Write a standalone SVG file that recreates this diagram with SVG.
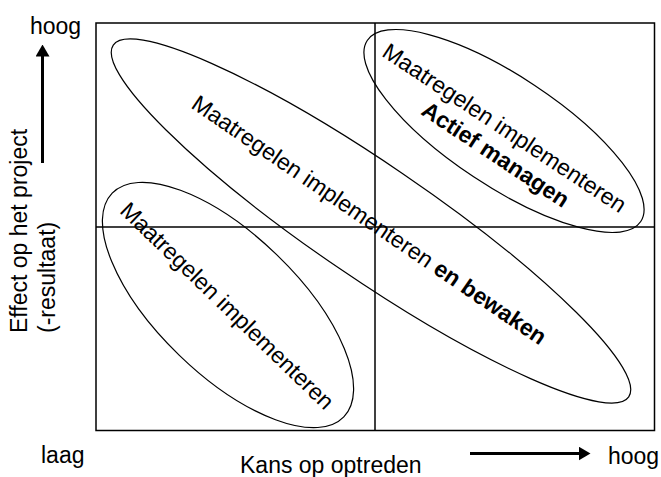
<svg xmlns="http://www.w3.org/2000/svg" width="661" height="477" viewBox="0 0 661 477">
  <style>
    text { font-family: "Liberation Sans", Arial, Helvetica, sans-serif; fill: #000; }
    .lbl { font-size: 23px; }
    .in { font-size: 23px; }
    .b { font-weight: bold; }
    .frame { fill: none; stroke: #000; stroke-width: 1.5; }
    .oval { fill: none; stroke: #000; stroke-width: 1.2; }
    .axis { fill: none; stroke: #000; stroke-width: 3; }
  </style>
  <defs>
    <marker id="head" viewBox="0 0 12 14" markerWidth="12" markerHeight="14" refX="0.5" refY="7" orient="auto" markerUnits="userSpaceOnUse">
      <path d="M0,0 L12,7 L0,14 Z" fill="#000"/>
    </marker>
  </defs>

  <!-- risk matrix frame with quadrant dividers -->
  <g id="matrix">
    <rect class="frame" x="96" y="23" width="558.5" height="407.5"/>
    <line class="frame" x1="375" y1="23" x2="375" y2="430.5"/>
    <line class="frame" x1="96" y1="227" x2="654.5" y2="227"/>
  </g>

  <!-- axis labels -->
  <g id="y-axis-label">
    <text class="lbl" x="30" y="34">hoog</text>
    <text class="lbl" transform="translate(27,333) rotate(-90)">
      <tspan x="0" y="0">Effect op het project</tspan>
      <tspan x="0" y="28">(-resultaat)</tspan>
    </text>
    <text class="lbl" x="41" y="463">laag</text>
  </g>
  <g id="x-axis-label">
    <text class="lbl" x="240" y="473">Kans op optreden</text>
    <text class="lbl" x="608" y="464">hoog</text>
  </g>

  <!-- direction arrows -->
  <g id="connectors">
    <line class="axis" x1="42.5" y1="163" x2="42.5" y2="56" marker-end="url(#head)"/>
    <line class="axis" x1="470" y1="453.5" x2="579" y2="453.5" marker-end="url(#head)"/>
  </g>

  <!-- large diagonal zone -->
  <g id="zone-bewaken" transform="translate(371,221) rotate(34.3)">
    <ellipse class="oval" cx="0" cy="0" rx="312" ry="57"/>
    <text class="in" x="-2" y="8" text-anchor="middle">Maatregelen implementeren <tspan class="b">en bewaken</tspan></text>
  </g>

  <!-- high/high zone -->
  <g id="zone-actief" transform="translate(504,131) rotate(33.5)">
    <ellipse class="oval" cx="0" cy="0" rx="164" ry="55"/>
    <text class="in" text-anchor="middle">
      <tspan x="2" y="5">Maatregelen implementeren</tspan>
      <tspan class="b" x="6" y="32">Actief managen</tspan>
    </text>
  </g>

  <!-- low/low zone -->
  <g id="zone-implementeren" transform="translate(228,305) rotate(44)">
    <ellipse class="oval" cx="0" cy="0" rx="161" ry="70"/>
    <text class="in" x="0" y="9" text-anchor="middle">Maatregelen implementeren</text>
  </g>
</svg>
